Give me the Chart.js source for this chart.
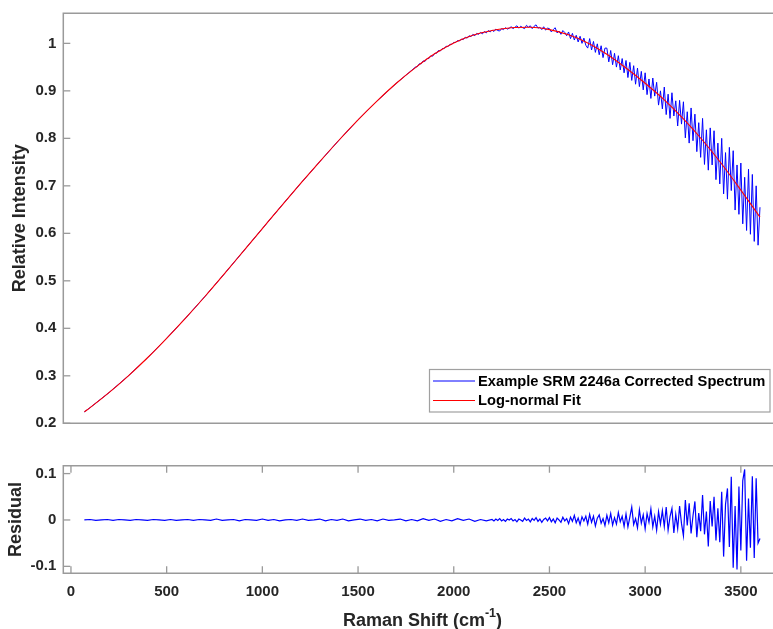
<!DOCTYPE html>
<html><head><meta charset="utf-8">
<script src="https://cdn.jsdelivr.net/npm/chart.js@4.4.1/dist/chart.umd.min.js"></script>
<style>
html,body{margin:0;padding:0;background:#fff;}
#wrap{position:relative;width:773px;height:629px;overflow:hidden;background:#fff;}
.box{position:absolute;left:0;width:773px;}
</style></head><body>
<div id="wrap">
<div class="box" style="top:0;height:440px"><canvas id="c1" width="773" height="440"></canvas></div>
<div class="box" style="top:440px;height:189px"><canvas id="c2" width="773" height="189"></canvas></div>
</div>
<script>
// ---------------- data ----------------
// Log-normal fit curve
const fitX = [70,100,200,300,400,500,600,700,800,900,1000,1100,1200,1300,1400,1500,1600,1700,1800,1900,2000,2100,2200,2300,2400,2500,2600,2700,2800,2900,3000,3100,3200,3300,3400,3500,3600];
const fitY = [0.224,0.233,0.265,0.300,0.338,0.379,0.422,0.467,0.514,0.562,0.610,0.658,0.705,0.751,0.796,0.839,0.879,0.916,0.949,0.978,1.001,1.017,1.027,1.033,1.034,1.029,1.018,1.001,0.977,0.948,0.916,0.881,0.841,0.796,0.746,0.691,0.634];

// Corrected spectrum where its noise is visible (1800..3600 cm-1, every 10 cm-1);
// below 1800 cm-1 the spectrum lies on the fit curve at this scale.
const specHiStart = 1800, specHiStep = 10;
const specHiY = [
 0.950,0.951,0.957,0.957,0.963,0.962,0.968,0.968,0.974,0.973,
 0.979,0.979,0.985,0.984,0.989,0.989,0.994,0.993,0.998,0.998,
 1.002,1.002,1.006,1.005,1.009,1.008,1.013,1.011,1.016,1.014,
 1.019,1.016,1.021,1.019,1.023,1.020,1.025,1.022,1.027,1.024,
 1.028,1.025,1.030,1.027,1.026,1.031,1.029,1.033,1.030,1.032,
 1.035,1.031,1.034,1.037,1.032,1.036,1.033,1.031,1.038,1.034,
 1.037,1.031,1.036,1.039,1.032,1.034,1.029,1.035,1.028,1.032,
 1.031,1.024,1.029,1.033,1.022,1.026,1.019,1.027,1.023,1.016,
 1.024,1.010,1.021,1.007,1.017,1.003,1.015,1.000,1.011,0.996,
 0.990,1.010,0.986,1.004,0.981,0.999,0.976,0.995,0.970,0.990,
 0.990,0.961,0.985,0.955,0.979,0.950,0.974,0.944,0.968,0.938,
 0.964,0.928,0.960,0.922,0.953,0.914,0.948,0.909,0.941,0.902,
 0.938,0.892,0.925,0.884,0.927,0.889,0.918,0.870,0.900,0.862,
 0.908,0.850,0.893,0.842,0.896,0.847,0.879,0.826,0.880,0.830,
 0.877,0.801,0.856,0.790,0.864,0.795,0.851,0.772,0.833,0.760,
 0.842,0.745,0.818,0.733,0.822,0.744,0.816,0.713,0.790,0.704,
 0.800,0.683,0.770,0.672,0.781,0.690,0.774,0.649,0.744,0.640,
 0.748,0.620,0.718,0.606,0.735,0.598,0.724,0.583,0.700,0.575,
 0.655];

// Residual, low-noise part (70..2170 cm-1, every 30 cm-1)
const residLowStart = 70, residLowStep = 30;
const residLowY = [
 0.000,0.001,-0.001,0.000,0.001,-0.001,0.001,0.000,-0.001,0.001,
 0.000,-0.001,0.001,0.000,-0.001,0.001,-0.001,0.000,0.001,-0.001,
 0.001,0.000,-0.001,0.002,-0.001,0.000,0.001,-0.002,0.001,0.000,
 -0.001,0.002,-0.001,0.001,-0.002,0.000,0.001,-0.001,0.002,-0.001,
 0.000,0.002,-0.002,0.001,-0.001,0.002,-0.002,0.000,0.002,-0.001,
 0.001,-0.002,0.002,-0.001,0.000,0.002,-0.002,0.001,-0.002,0.003,
 -0.001,0.002,-0.003,0.001,-0.002,0.003,-0.001,0.002,-0.003,0.001,
 -0.002];
// Residual, noisy part (2200..3600 cm-1, every 10 cm-1)
const residHiStart = 2200, residHiStep = 10;
const residHiY = [
 0.001,-0.002,0.002,-0.001,0.003,-0.002,0.001,-0.003,0.002,0.000,
 0.003,-0.002,0.001,-0.004,0.002,0.000,-0.003,0.004,-0.001,0.002,
 -0.004,0.003,-0.001,0.005,-0.003,0.002,-0.005,0.001,0.004,-0.002,
 0.005,-0.004,0.002,-0.006,0.004,0.000,-0.005,0.006,-0.002,0.003,
 -0.008,0.006,-0.003,0.010,-0.006,0.004,-0.010,0.007,-0.002,0.008,
 -0.009,0.012,-0.005,0.008,-0.013,0.004,0.011,-0.007,0.003,-0.012,
 0.010,-0.006,0.014,-0.011,0.005,-0.009,0.016,-0.004,0.008,-0.014,
 0.013,-0.015,0.006,0.028,-0.010,0.003,-0.017,0.022,-0.007,0.011,
 -0.019,0.014,-0.005,0.024,-0.015,0.008,-0.022,0.018,-0.009,0.020,
 -0.014,0.028,-0.022,0.007,0.025,-0.028,0.012,-0.019,0.030,-0.008,
 -0.034,0.043,-0.012,0.036,-0.029,0.009,0.040,-0.037,0.015,-0.024,
 0.054,-0.031,0.018,-0.057,0.041,-0.014,0.050,-0.044,0.025,-0.048,
 0.061,-0.079,0.034,0.068,-0.058,0.093,-0.103,0.030,-0.107,0.072,
 -0.066,0.085,0.109,-0.088,0.046,-0.060,0.094,-0.082,0.090,-0.050,
 -0.040];

// axes / ticks
const xMin = -40, xMax = 3668;
const xTicks = [0,500,1000,1500,2000,2500,3000,3500];
const xTickLabels = ['0','500','1000','1500','2000','2500','3000','3500'];
const topYMin = 0.2, topYMax = 1.0633;
const topYTicks = [0.2,0.3,0.4,0.5,0.6,0.7,0.8,0.9,1.0];
const topYLabels = ['0.2','0.3','0.4','0.5','0.6','0.7','0.8','0.9','1'];
const resYMin = -0.115, resYMax = 0.117;
const resYTicks = [-0.1,0,0.1];
const resYLabels = ['-0.1','0','0.1'];
const seriesNames = ['Example SRM 2246a Corrected Spectrum','Log-normal Fit'];
const seriesColors = ['#0000ff','#ff0000'];

// ---------------- build point tables ----------------
const fitPts = fitX.map((x,i)=>({x, y:fitY[i]}));
const specPts = fitPts.filter(p=>p.x < specHiStart)
  .concat(specHiY.map((y,i)=>({x: specHiStart + i*specHiStep, y})));
const residPts = residLowY.map((y,i)=>({x: residLowStart + i*residLowStep, y}))
  .concat(residHiY.map((y,i)=>({x: residHiStart + i*residHiStep, y})));

// ---------------- styling ----------------
const FONT = "'Liberation Sans', Arial, Helvetica, sans-serif";
const AX = '#9a9a9a';
const TXT = '#262626';
const tickFont = {family: FONT, size: 15, weight: 'bold'};
const titleFont = {family: FONT, size: 18, weight: 'bold'};

function framePlugin(yTicks, xTicksArr){
  return {id:'frame', afterDraw(chart){
    const {ctx, chartArea:a, scales} = chart;
    ctx.save();
    ctx.strokeStyle = AX; ctx.lineWidth = 1.5;
    ctx.beginPath();
    ctx.moveTo(a.right+2, a.top); ctx.lineTo(a.left, a.top);
    ctx.lineTo(a.left, a.bottom); ctx.lineTo(a.right+2, a.bottom);
    ctx.stroke();
    ctx.lineWidth = 1.3;
    yTicks.forEach(v=>{
      const y = scales.y.getPixelForValue(v);
      ctx.beginPath(); ctx.moveTo(a.left, y); ctx.lineTo(a.left+7, y); ctx.stroke();
    });
    (xTicksArr||[]).forEach(v=>{
      const x = scales.x.getPixelForValue(v);
      ctx.beginPath();
      ctx.moveTo(x, a.bottom); ctx.lineTo(x, a.bottom-7);
      ctx.moveTo(x, a.top); ctx.lineTo(x, a.top+7);
      ctx.stroke();
    });
    ctx.restore();
  }};
}

const legendPlugin = {id:'legbox', afterDraw(chart){
  const ctx = chart.ctx;
  ctx.save();
  const bx = 429.5, by = 369.5, bw = 340.5, bh = 42.5;
  ctx.fillStyle = '#fff'; ctx.fillRect(bx, by, bw, bh);
  ctx.strokeStyle = '#a0a0a0'; ctx.lineWidth = 1.2; ctx.strokeRect(bx, by, bw, bh);
  seriesNames.forEach((name, i)=>{
    const y = 381 + i*19.5;
    ctx.strokeStyle = seriesColors[i]; ctx.lineWidth = 1;
    ctx.beginPath(); ctx.moveTo(433, y); ctx.lineTo(475, y); ctx.stroke();
    ctx.fillStyle = '#000'; ctx.font = 'bold 14.7px ' + FONT;
    ctx.textBaseline = 'middle'; ctx.textAlign = 'left';
    ctx.fillText(name, 478, 381.5 + i*19.5);
  });
  ctx.restore();
}};

const xTitlePlugin = {id:'xtitle', afterDraw(chart){
  const ctx = chart.ctx;
  ctx.save();
  ctx.fillStyle = TXT; ctx.textBaseline = 'alphabetic'; ctx.textAlign = 'left';
  const p1 = 'Raman Shift (cm', p2 = '-1', p3 = ')';
  const fMain = 'bold 18px ' + FONT, fSup = 'bold 12.5px ' + FONT;
  ctx.font = fMain; const w1 = ctx.measureText(p1).width, w3 = ctx.measureText(p3).width;
  ctx.font = fSup; const w2 = ctx.measureText(p2).width;
  const cx = 422.5, base = 185.5;
  let x = cx - (w1+w2+w3)/2;
  ctx.font = fMain; ctx.fillText(p1, x, base); x += w1;
  ctx.font = fSup; ctx.fillText(p2, x, base-8.5); x += w2;
  ctx.font = fMain; ctx.fillText(p3, x, base);
  ctx.restore();
}};

function fixY(s){ s.width = 63.3; s.paddingTop = 0; s.paddingBottom = 0; }

// ---------------- top panel ----------------
new Chart(document.getElementById('c1'), {
  type: 'line',
  data: {datasets: [
    {label: seriesNames[0], data: specPts, borderColor: seriesColors[0], borderWidth: 1, pointRadius: 0, order: 1},
    {label: seriesNames[1], data: fitPts, borderColor: seriesColors[1], borderWidth: 1.1, pointRadius: 0, cubicInterpolationMode: 'monotone', order: 0}
  ]},
  options: {
    responsive: false, animation: false, events: [],
    layout: {padding: {top: 13.3, right: 0, bottom: 0, left: 0}},
    plugins: {legend: {display: false}, tooltip: {enabled: false}},
    scales: {
      x: {type: 'linear', min: xMin, max: xMax,
          ticks: {display: false}, grid: {display: false, drawTicks: false}, border: {display: false},
          afterFit(s){ s.height = 16.7; s.paddingLeft = 0; s.paddingRight = 0; }},
      y: {type: 'linear', min: topYMin, max: topYMax,
          afterBuildTicks(s){ s.ticks = topYTicks.map(v=>({value: v})); },
          ticks: {callback: (v,i)=>topYLabels[i], font: tickFont, color: TXT, padding: 7},
          grid: {display: false, drawTicks: false}, border: {display: false},
          title: {display: true, text: 'Relative Intensity', font: titleFont, color: TXT, padding: {top: 9.7, bottom: 0}},
          afterFit: fixY}
    }
  },
  plugins: [framePlugin(topYTicks, null), legendPlugin]
});

// ---------------- residual panel ----------------
new Chart(document.getElementById('c2'), {
  type: 'line',
  data: {datasets: [
    {label: 'Residual', data: residPts, borderColor: seriesColors[0], borderWidth: 1.2, pointRadius: 0}
  ]},
  options: {
    responsive: false, animation: false, events: [],
    layout: {padding: {top: 25.7, right: 0, bottom: 0, left: 0}},
    plugins: {legend: {display: false}, tooltip: {enabled: false}},
    scales: {
      x: {type: 'linear', min: xMin, max: xMax,
          afterBuildTicks(s){ s.ticks = xTicks.map(v=>({value: v})); },
          ticks: {callback: (v,i)=>xTickLabels[i], font: tickFont, color: TXT, padding: 10, maxRotation: 0, autoSkip: false},
          grid: {display: false, drawTicks: false}, border: {display: false},
          afterFit(s){ s.height = 55.7; s.paddingLeft = 0; s.paddingRight = 0; }},
      y: {type: 'linear', min: resYMin, max: resYMax,
          afterBuildTicks(s){ s.ticks = resYTicks.map(v=>({value: v})); },
          ticks: {callback: (v,i)=>resYLabels[i], font: tickFont, color: TXT, padding: 7},
          grid: {display: false, drawTicks: false}, border: {display: false},
          title: {display: true, text: 'Residual', font: titleFont, color: TXT, padding: {top: 5.2, bottom: 0}},
          afterFit: fixY}
    }
  },
  plugins: [framePlugin(resYTicks, xTicks), xTitlePlugin]
});
</script>
</body></html>
